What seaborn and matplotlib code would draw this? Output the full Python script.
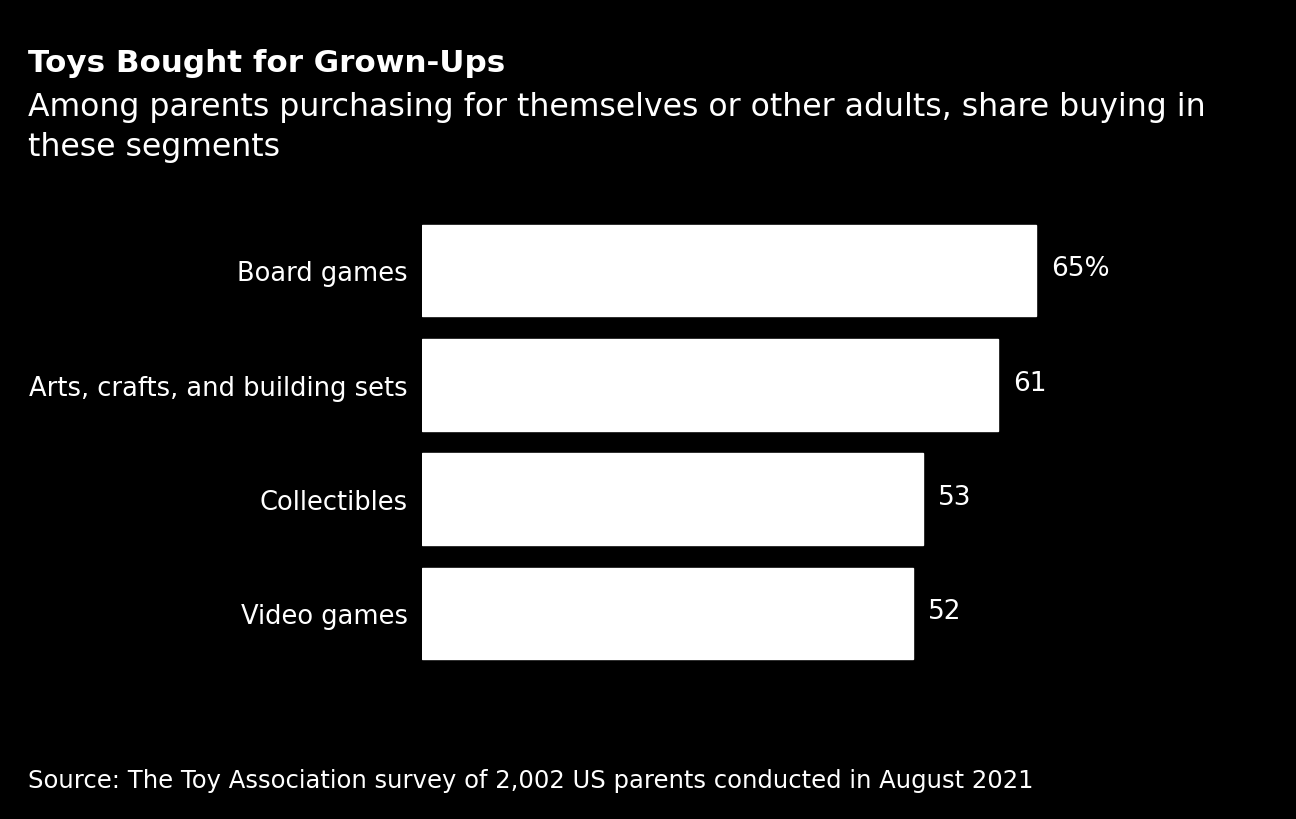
import pandas as pd
import seaborn as sns
import matplotlib.pyplot as plt

# data
segments = ['Board games', 'Arts, crafts, and building sets', 'Collectibles', 'Video games']
shares = [65, 61, 53, 52]
value_labels = ['65%', '61', '53', '52']

title = 'Toys Bought for Grown-Ups'
subtitle = ['Among parents purchasing for themselves or other adults, share buying in',
            'these segments']
source = 'Source: The Toy Association survey of 2,002 US parents conducted in August 2021'

df = pd.DataFrame({'segment': segments, 'share': shares})

sns.set_theme(style='white')
plt.rcParams['font.family'] = ['DejaVu Sans']

fig = plt.figure(figsize=(12.96, 8.2), dpi=100, facecolor='black')
ax = fig.add_axes([0.3256, 0.1809, 0.5831, 0.5578], facecolor='black')

sns.barplot(data=df, x='share', y='segment', color='white', width=0.8,
            saturation=1, ax=ax)
ax.set_xlim(0, 80)
ax.set_ylim(3.5, -0.5)

for i, (v, lab) in enumerate(zip(shares, value_labels)):
    ax.text(v + 1.6, i - 0.02, lab, color='white', fontsize=19, va='center', ha='left')

ax.set(xlabel='', ylabel='')
ax.set_xticks([])
ax.tick_params(axis='y', length=0, pad=10, labelsize=18.5, labelcolor='white')
sns.despine(ax=ax, left=True, bottom=True)

# titles
x0 = 28 / 1296
fig.text(x0, 1 - 72 / 820, title, color='white',
         fontsize=22.3, fontweight='bold', va='baseline', ha='left')
fig.text(x0, 1 - 116 / 820, subtitle[0], color='white', fontsize=22.7,
         va='baseline', ha='left')
fig.text(x0, 1 - 156 / 820, subtitle[1], color='white', fontsize=22.7,
         va='baseline', ha='left')
fig.text(x0, 1 - 788 / 820, source, color='white', fontsize=17.45,
         va='baseline', ha='left')

plt.savefig('out.png', dpi=100, facecolor='black')
